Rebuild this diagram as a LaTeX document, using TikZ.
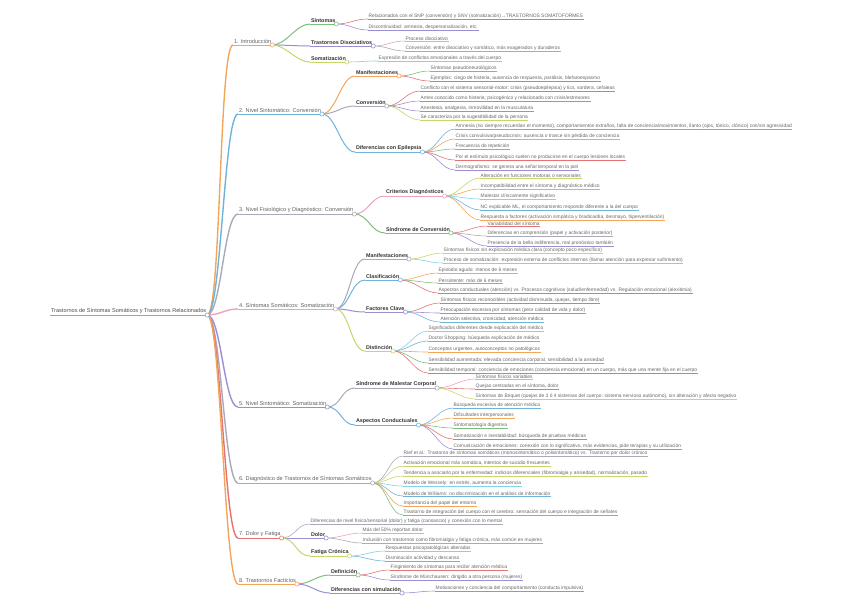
\documentclass[tikz,border=0pt]{standalone}
\usepackage{fontspec}
\setmainfont{Liberation Sans}
\usetikzlibrary{backgrounds}
\definecolor{cOr}{HTML}{F2A65A}
\definecolor{cGr}{HTML}{7DBE7D}
\definecolor{cBl}{HTML}{6FB3DB}
\definecolor{cRd}{HTML}{E57373}
\definecolor{cPu}{HTML}{9C8ED0}
\definecolor{cYg}{HTML}{C9D46A}
\definecolor{cCy}{HTML}{7FD3E6}
\definecolor{cPk}{HTML}{EBA3BE}
\definecolor{cGy}{HTML}{A9A9B8}
\tikzset{
  lvlroot/.style={font=\fontsize{5.6}{6.5}\selectfont, text=black!70, inner sep=0.8pt, anchor=south west},
  lvlone/.style={font=\fontsize{5.6}{6.5}\selectfont, text=black!62, inner sep=0.8pt, anchor=south west},
  lvltwo/.style={font=\bfseries\fontsize{5.4}{6.5}\selectfont, text=black!80, inner sep=0.8pt, anchor=south west},
  leaf/.style={font=\fontsize{4.9}{5.8}\selectfont, text=black!60, inner sep=0.5pt, anchor=south west},
  ul/.style={line width=0.7pt},
  conn/.style={line width=0.7pt},
  knob/.style={circle, draw, fill=white, inner sep=0pt, minimum size=4.2pt, line width=0.6pt},
}
% name, style, x, y, colour, text
\newcommand\mmnode[6]{%
  \node[#2] (#1) at (#3,#4) {#6};
  \draw[ul,#5] (#1.south west) -- (#1.south east);}
% name, colour
\newcommand\mmknob[2]{\node[knob,draw=#2] (#1-o) at (#1.south east) {};}
% parent, child, colour, width
\newcommand\mmlink[4]{%
  \draw[conn,#3,line width=#4] (#1-o.center) .. controls +(14,0) and +(-14,0) .. (#2.south west);}
\begin{document}
\begin{tikzpicture}[x=1pt,y=-1pt]
\useasboundingbox (0,0) rectangle (848,599);
% ---------------- root
\mmnode{root}{lvlroot}{50}{315}{cBl}{Trastornos de Síntomas Somáticos y Trastornos Relacionados}
% ---------------- level 1
\mmnode{a}{lvlone}{233}{45}{cOr}{1. Introducción}
\mmnode{b}{lvlone}{238}{114}{cBl}{2. Nivel Sintomático: Conversión}
\mmnode{c}{lvlone}{238}{214}{cGy}{3. Nivel Fisiológico y Diagnóstico: Conversión}
\mmnode{d}{lvlone}{238}{309}{cPk}{4. Síntomas Somáticos: Somatización}
\mmnode{e}{lvlone}{238}{407}{cPu}{5. Nivel Sintomático: Somatización}
\mmnode{f}{lvlone}{238}{483}{cGy}{6. Diagnóstico de Trastornos de Síntomas Somáticos}
\mmnode{g}{lvlone}{238}{538}{cRd}{7. Dolor y Fatiga}
\mmnode{h}{lvlone}{238}{584}{cOr}{8. Trastornos Facticios}
% ---------------- 1
\mmnode{a1}{lvltwo}{310}{24}{cGr}{Síntomas}
\mmnode{a2}{lvltwo}{310}{46}{cPu}{Trastornos Disociativos}
\mmnode{a3}{lvltwo}{310}{62}{cYg}{Somatización}
\mmnode{a11}{leaf}{368}{19}{cRd}{Relacionados con el SNP (conversión) y SNV (somatización)→TRASTORNOS SOMATOFORMES}
\mmnode{a12}{leaf}{368}{30}{cPu}{Discontinuidad: amnesia, despersonalización, etc.}
\mmnode{a21}{leaf}{405}{41}{cPk}{Proceso disociativo}
\mmnode{a22}{leaf}{405}{51}{cGy}{Conversión: entre disociativo y somático, más exagerados y duraderos}
\mmnode{a31}{leaf}{378}{61}{cCy}{Expresión de conflictos emocionales a través del cuerpo}
% ---------------- 2
\mmnode{b1}{lvltwo}{355}{76}{cOr}{Manifestaciones}
\mmnode{b2}{lvltwo}{355}{106}{cGy}{Conversión}
\mmnode{b3}{lvltwo}{355}{152}{cBl}{Diferencias con Epilepsia}
\mmnode{b11}{leaf}{430}{71}{cGr}{Síntomas pseudoneurológicos}
\mmnode{b12}{leaf}{430}{81}{cRd}{Ejemplos: ciego de histeria, ausencia de respuesta, parálisis, blefaroespasmo}
\mmnode{b21}{leaf}{420}{91}{cRd}{Conflicto con el sistema sensorial-motor: crisis (pseudoepilepsia) y tics, sordera, cefaleas}
\mmnode{b22}{leaf}{420}{101}{cPu}{Antes conocido como histeria; psicogénico y relacionado con crisis/estresores}
\mmnode{b23}{leaf}{420}{111}{cPu}{Anestesia, analgesia, inmovilidad en la musculatura}
\mmnode{b24}{leaf}{420}{120}{cYg}{Se caracteriza por la sugestibilidad de la persona}
\mmnode{b31}{leaf}{455}{129}{cBl}{Amnesia (no siempre recuerdan el momento), comportamientos extraños, falta de conciencia/movimientos, llanto (ojos, tónico, clónico) con/sin agresividad}
\mmnode{b32}{leaf}{455}{139}{cOr}{Crisis convulsiva/pseudocrisis: ausencia o trance sin pérdida de conciencia}
\mmnode{b33}{leaf}{455}{149}{cGr}{Frecuencia de repetición}
\mmnode{b34}{leaf}{455}{160}{cRd}{Por el estímulo psicológico suelen no producirse en el cuerpo lesiones locales}
\mmnode{b35}{leaf}{455}{170}{cPu}{Dermografismo: se genera una señal temporal en la piel}
% ---------------- 3
\mmnode{c1}{lvltwo}{385}{196}{cPk}{Criterios Diagnósticos}
\mmnode{c2}{lvltwo}{385}{233}{cGr}{Síndrome de Conversión}
\mmnode{c11}{leaf}{480}{178}{cYg}{Alteración en funciones motoras o sensoriales}
\mmnode{c12}{leaf}{480}{189}{cOr}{Incompatibilidad entre el síntoma y diagnóstico médico}
\mmnode{c13}{leaf}{480}{199}{cCy}{Malestar clínicamente significativo}
\mmnode{c14}{leaf}{480}{210}{cBl}{NC explicable ML, el comportamiento responde diferente a la del cuerpo}
\mmnode{c15}{leaf}{480}{220}{cOr}{Respuesta a factores (activación simpática y bradicardia, desmayo, hiperventilación)}
\mmnode{c21}{leaf}{487}{226}{cRd}{Variabilidad del síntoma}
\mmnode{c22}{leaf}{487}{236}{cGy}{Diferencias en comprensión (papel y activación posterior)}
\mmnode{c23}{leaf}{487}{246}{cPu}{Presencia de la bella indiferencia, mal pronóstico también}
% ---------------- 4
\mmnode{d1}{lvltwo}{365}{259}{cGy}{Manifestaciones}
\mmnode{d2}{lvltwo}{365}{280}{cBl}{Clasificación}
\mmnode{d3}{lvltwo}{365}{312}{cPu}{Factores Clave}
\mmnode{d4}{lvltwo}{365}{351}{cYg}{Distinción}
\mmnode{d11}{leaf}{443}{253}{cYg}{Síntomas físicos sin explicación médica clara (concepto poco específico)}
\mmnode{d12}{leaf}{443}{263}{cCy}{Proceso de somatización: expresión externa de conflictos internos (llamar atención para expresar sufrimiento)}
\mmnode{d21}{leaf}{438}{273}{cOr}{Episodio agudo: menos de 6 meses}
\mmnode{d22}{leaf}{438}{283}{cGr}{Persistente: más de 6 meses}
\mmnode{d23}{leaf}{438}{293}{cRd}{Aspectos conductuales (atención) vs. Procesos cognitivos (salud/enfermedad) vs. Regulación emocional (alexitimia)}
\mmnode{d31}{leaf}{440}{303}{cRd}{Síntomas físicos reconocibles (actividad disminuida, quejas, tiempo libre)}
\mmnode{d32}{leaf}{440}{313}{cPu}{Preocupación excesiva por síntomas (peor calidad de vida y dolor)}
\mmnode{d33}{leaf}{440}{322}{cBl}{Atención selectiva, cronicidad, atención médica}
\mmnode{d41}{leaf}{428}{331}{cCy}{Significados diferentes desde explicación del médico}
\mmnode{d42}{leaf}{428}{341}{cBl}{Doctor Shopping: búsqueda explicación de médico}
\mmnode{d43}{leaf}{428}{352}{cOr}{Conceptos urgentes, autoconceptos no patológicos}
\mmnode{d44}{leaf}{428}{363}{cGr}{Sensibilidad aumentada: elevada conciencia corporal, sensibilidad a la ansiedad}
\mmnode{d45}{leaf}{428}{373}{cRd}{Sensibilidad temporal: conciencia de emociones (conciencia emocional) en un cuerpo, más que una mente fija en el cuerpo}
% ---------------- 5
\mmnode{e1}{lvltwo}{355}{388}{cGy}{Síndrome de Malestar Corporal}
\mmnode{e2}{lvltwo}{355}{425}{cBl}{Aspectos Conductuales}
\mmnode{e11}{leaf}{475}{379}{cPk}{Síntomas físicos variables}
\mmnode{e12}{leaf}{475}{389}{cRd}{Quejas centradas en el síntoma, dolor}
\mmnode{e13}{leaf}{475}{399}{cYg}{Síntomas de Briquet (quejas de 3 ó 4 sistemas del cuerpo: sistema nervioso autónomo), sin alteración y afecto negativo}
\mmnode{e21}{leaf}{453}{408}{cBl}{Búsqueda excesiva de atención médica}
\mmnode{e22}{leaf}{453}{418}{cOr}{Dificultades interpersonales}
\mmnode{e23}{leaf}{453}{428}{cGr}{Sintomatología digestiva}
\mmnode{e24}{leaf}{453}{439}{cRd}{Somatización e inestabilidad: búsqueda de pruebas médicas}
\mmnode{e25}{leaf}{453}{449}{cPu}{Comunicación de emociones: conexión con lo significativo, más evidencias, pide terapias y su utilización}
% ---------------- 6
\mmnode{f1}{leaf}{403}{456}{cGy}{Rief et al.: Trastorno de síntomas somáticos (monosintomático o polisintomático) vs. Trastorno por dolor crónico}
\mmnode{f2}{leaf}{403}{466}{cYg}{Activación emocional más somática, intentos de suicidio frecuentes}
\mmnode{f3}{leaf}{403}{476}{cYg}{Tendencia a asociarlo por la enfermedad: indicios diferenciales (fibromialgia y ansiedad), normalización, pasado}
\mmnode{f4}{leaf}{403}{486}{cCy}{Modelo de Wessely: en estrés, aumenta la conciencia}
\mmnode{f5}{leaf}{403}{496}{cBl}{Modelo de Williams: no discriminación en el análisis de información}
\mmnode{f6}{leaf}{403}{506}{cOr}{Importancia del papel del entorno}
\mmnode{f7}{leaf}{403}{515}{cGr}{Trastorno de integración del cuerpo con el cerebro: sensación del cuerpo e integración de señales}
% ---------------- 7
\mmnode{g0}{leaf}{310}{524}{cGy}{Diferencias de nivel físico/sensorial (dolor) y fatiga (cansancio) y conexión con lo mental}
\mmnode{g1}{lvltwo}{310}{538}{cPu}{Dolor}
\mmnode{g2}{lvltwo}{310}{556}{cYg}{Fatiga Crónica}
\mmnode{g11}{leaf}{362}{533}{cPk}{Más del 50\% reportan dolor}
\mmnode{g12}{leaf}{362}{543}{cGy}{Inclusión con trastornos como fibromialgia y fatiga crónica, más común en mujeres}
\mmnode{g21}{leaf}{385}{551}{cCy}{Respuestas psicopatológicas alteradas}
\mmnode{g22}{leaf}{385}{561}{cBl}{Disminución actividad y descanso}
% ---------------- 8
\mmnode{h1}{lvltwo}{330}{575}{cGr}{Definición}
\mmnode{h2}{lvltwo}{330}{593}{cPu}{Diferencias con simulación}
\mmnode{h11}{leaf}{390}{570}{cRd}{Fingimiento de síntomas para recibir atención médica}
\mmnode{h12}{leaf}{390}{580}{cPu}{Síndrome de Münchausen: dirigido a otra persona (mujeres)}
\mmnode{h21}{leaf}{435}{591}{cPu}{Motivaciones y conciencia del comportamiento (conducta impulsiva)}
% ---------------- knobs
\mmknob{root}{cBl}
\mmknob{a}{cOr}\mmknob{b}{cBl}\mmknob{c}{cGy}\mmknob{d}{cPk}
\mmknob{e}{cPu}\mmknob{f}{cGy}\mmknob{g}{cRd}\mmknob{h}{cOr}
\mmknob{a1}{cGr}\mmknob{a2}{cPu}\mmknob{a3}{cYg}
\mmknob{b1}{cOr}\mmknob{b2}{cGy}\mmknob{b3}{cBl}
\mmknob{c1}{cPk}\mmknob{c2}{cGr}
\mmknob{d1}{cGy}\mmknob{d2}{cBl}\mmknob{d3}{cPu}\mmknob{d4}{cYg}
\mmknob{e1}{cGy}\mmknob{e2}{cBl}
\mmknob{g1}{cPu}\mmknob{g2}{cYg}
\mmknob{h1}{cGr}\mmknob{h2}{cPu}
% ---------------- connectors
\begin{pgfonlayer}{background}
\mmlink{root}{a}{cOr}{1.4pt}\mmlink{root}{b}{cBl}{1.4pt}
\mmlink{root}{c}{cGy}{1.4pt}\mmlink{root}{d}{cPk}{1.4pt}
\mmlink{root}{e}{cPu}{1.4pt}\mmlink{root}{f}{cGy}{1.4pt}
\mmlink{root}{g}{cRd}{1.4pt}\mmlink{root}{h}{cOr}{1.4pt}
\mmlink{a}{a1}{cGr}{1pt}\mmlink{a}{a2}{cPu}{1pt}\mmlink{a}{a3}{cYg}{1pt}
\mmlink{a1}{a11}{cRd}{0.6pt}\mmlink{a1}{a12}{cPu}{0.6pt}
\mmlink{a2}{a21}{cPk}{0.6pt}\mmlink{a2}{a22}{cGy}{0.6pt}
\mmlink{a3}{a31}{cCy}{0.6pt}
\mmlink{b}{b1}{cOr}{1pt}\mmlink{b}{b2}{cGy}{1pt}\mmlink{b}{b3}{cBl}{1pt}
\mmlink{b1}{b11}{cGr}{0.6pt}\mmlink{b1}{b12}{cRd}{0.6pt}
\mmlink{b2}{b21}{cRd}{0.6pt}\mmlink{b2}{b22}{cPu}{0.6pt}\mmlink{b2}{b23}{cPu}{0.6pt}\mmlink{b2}{b24}{cYg}{0.6pt}
\mmlink{b3}{b31}{cBl}{0.6pt}\mmlink{b3}{b32}{cOr}{0.6pt}\mmlink{b3}{b33}{cGr}{0.6pt}\mmlink{b3}{b34}{cRd}{0.6pt}\mmlink{b3}{b35}{cPu}{0.6pt}
\mmlink{c}{c1}{cPk}{1pt}\mmlink{c}{c2}{cGr}{1pt}
\mmlink{c1}{c11}{cYg}{0.6pt}\mmlink{c1}{c12}{cOr}{0.6pt}\mmlink{c1}{c13}{cCy}{0.6pt}\mmlink{c1}{c14}{cBl}{0.6pt}\mmlink{c1}{c15}{cOr}{0.6pt}
\mmlink{c2}{c21}{cRd}{0.6pt}\mmlink{c2}{c22}{cGy}{0.6pt}\mmlink{c2}{c23}{cPu}{0.6pt}
\mmlink{d}{d1}{cGy}{1pt}\mmlink{d}{d2}{cBl}{1pt}\mmlink{d}{d3}{cPu}{1pt}\mmlink{d}{d4}{cYg}{1pt}
\mmlink{d1}{d11}{cYg}{0.6pt}\mmlink{d1}{d12}{cCy}{0.6pt}
\mmlink{d2}{d21}{cOr}{0.6pt}\mmlink{d2}{d22}{cGr}{0.6pt}\mmlink{d2}{d23}{cRd}{0.6pt}
\mmlink{d3}{d31}{cRd}{0.6pt}\mmlink{d3}{d32}{cPu}{0.6pt}\mmlink{d3}{d33}{cBl}{0.6pt}
\mmlink{d4}{d41}{cCy}{0.6pt}\mmlink{d4}{d42}{cBl}{0.6pt}\mmlink{d4}{d43}{cOr}{0.6pt}\mmlink{d4}{d44}{cGr}{0.6pt}\mmlink{d4}{d45}{cRd}{0.6pt}
\mmlink{e}{e1}{cGy}{1pt}\mmlink{e}{e2}{cBl}{1pt}
\mmlink{e1}{e11}{cPk}{0.6pt}\mmlink{e1}{e12}{cRd}{0.6pt}\mmlink{e1}{e13}{cYg}{0.6pt}
\mmlink{e2}{e21}{cBl}{0.6pt}\mmlink{e2}{e22}{cOr}{0.6pt}\mmlink{e2}{e23}{cGr}{0.6pt}\mmlink{e2}{e24}{cRd}{0.6pt}\mmlink{e2}{e25}{cPu}{0.6pt}
\mmlink{f}{f1}{cGy}{0.6pt}\mmlink{f}{f2}{cYg}{0.6pt}\mmlink{f}{f3}{cYg}{0.6pt}\mmlink{f}{f4}{cCy}{0.6pt}
\mmlink{f}{f5}{cBl}{0.6pt}\mmlink{f}{f6}{cOr}{0.6pt}\mmlink{f}{f7}{cGr}{0.6pt}
\mmlink{g}{g0}{cGy}{0.6pt}\mmlink{g}{g1}{cPu}{1pt}\mmlink{g}{g2}{cYg}{1pt}
\mmlink{g1}{g11}{cPk}{0.6pt}\mmlink{g1}{g12}{cGy}{0.6pt}
\mmlink{g2}{g21}{cCy}{0.6pt}\mmlink{g2}{g22}{cBl}{0.6pt}
\mmlink{h}{h1}{cGr}{1pt}\mmlink{h}{h2}{cPu}{1pt}
\mmlink{h1}{h11}{cRd}{0.6pt}\mmlink{h1}{h12}{cPu}{0.6pt}
\mmlink{h2}{h21}{cPu}{0.6pt}
\end{pgfonlayer}
\end{tikzpicture}
\end{document}
